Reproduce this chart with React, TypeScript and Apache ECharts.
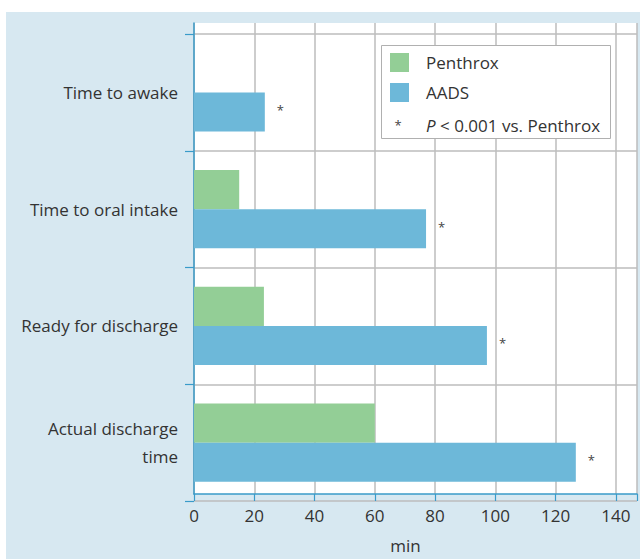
import React, { useEffect, useRef } from "react";
import * as echarts from "echarts";

const categories = ["Time to awake", "Time to oral intake", "Ready for discharge", "Actual discharge\ntime"];
const penthrox: (number | null)[] = [null, 15, 23.2, 60];
const aads = [23.5, 77, 97.2, 126.7];
const xTicks = [0, 20, 40, 60, 80, 100, 120, 140];
const legendNames = ["Penthrox", "AADS"];
const noteText = "{i|P} < 0.001 vs. Penthrox";

const FONT = "Open Sans";
const FS = 17;
const AXIS_BLUE = "#3a9bc9";
const GRID_GRAY = "#bdbdbd";
const GREEN = "#93ce96";
const BLUE = "#6db8d9";

export default function App() {
  const ref = useRef<HTMLDivElement>(null);
  useEffect(() => {
    document.body.style.margin = "0";
    const chart = echarts.init(ref.current!, null, { renderer: "svg" });
    const xMax = 147;
    const option: any = {
      animation: false,
      backgroundColor: "#ffffff",
      textStyle: { fontFamily: FONT },
      graphic: [
        { type: "rect", z: -10, shape: { x: 6, y: 12, width: 634, height: 547 }, style: { fill: "#d7e8f1" }, silent: true },
        { type: "rect", z: 50, shape: { x: 381.5, y: 45.5, width: 229, height: 93 }, style: { fill: "#ffffff", stroke: "#b0b0b0", lineWidth: 1 } },
        { type: "text", z: 52, x: 398, y: 125, style: { text: "*", fill: "#444", fontSize: 13, fontFamily: FONT, align: "center", verticalAlign: "middle" } },
        {
          type: "text", z: 52, x: 426, y: 125,
          style: {
            text: noteText, fill: "#333", fontSize: FS, fontFamily: FONT, verticalAlign: "middle",
            rich: { i: { fontStyle: "italic", fontSize: FS, fontFamily: FONT, fill: "#333" } },
          },
        },
      ],
      legend: {
        z: 60,
        orient: "vertical",
        left: 382,
        top: 51,
        itemWidth: 19,
        itemHeight: 19,
        itemGap: 11,
        icon: "rect",
        data: legendNames,
        textStyle: { fontSize: FS, color: "#333", fontFamily: FONT, padding: [0, 0, 0, 12] },
        padding: [2, 8, 2, 8],
      },
      grid: [
        { left: 194, right: 3, top: 23, bottom: 58, show: true, backgroundColor: "#ffffff", borderWidth: 0, z: 0 },
        { left: 194, right: 3, top: 34, bottom: 58, z: 2 },
      ],
      xAxis: [
        {
          gridIndex: 0, type: "value", min: 0, max: xMax, interval: 20,
          axisLine: { show: true, lineStyle: { color: AXIS_BLUE, width: 1.5 } },
          axisTick: { show: true, length: 7, lineStyle: { color: AXIS_BLUE, width: 1.2 } },
          splitLine: { show: true, lineStyle: { color: GRID_GRAY, width: 1.5 } },
          axisLabel: {
            fontSize: FS, color: "#333", margin: 13, fontFamily: FONT,
            formatter: (v: number) => (xTicks.includes(v) ? String(v) : ""),
          },
          name: "min", nameLocation: "middle", nameGap: 43,
          nameTextStyle: { fontSize: FS, color: "#333", fontFamily: FONT, padding: [0, 20, 0, 0] },
        },
        { gridIndex: 1, type: "value", min: 0, max: xMax, show: false, splitLine: { show: false } },
      ],
      yAxis: [
        {
          gridIndex: 0, type: "value", min: 0, max: 1,
          axisLine: { show: true, lineStyle: { color: AXIS_BLUE, width: 1.5 } },
          axisTick: { show: false }, axisLabel: { show: false }, splitLine: { show: false },
        },
        {
          gridIndex: 1, type: "category", data: categories, inverse: true,
          axisLine: { show: false },
          axisTick: { show: true, length: 9, lineStyle: { color: AXIS_BLUE, width: 1.2 } },
          splitLine: { show: true, lineStyle: { color: GRID_GRAY, width: 1.5 } },
          axisLabel: { fontSize: FS, color: "#333", margin: 16, lineHeight: 28, align: "right", fontFamily: FONT },
        },
      ],
      series: [
        {
          name: legendNames[0], type: "bar", xAxisIndex: 1, yAxisIndex: 1, data: penthrox,
          itemStyle: { color: GREEN }, barGap: "0%", barCategoryGap: "33%", z: 3,
        },
        {
          name: legendNames[1], type: "bar", xAxisIndex: 1, yAxisIndex: 1, data: aads,
          itemStyle: { color: BLUE }, barGap: "0%", barCategoryGap: "33%", z: 3,
          label: { show: true, position: "right", distance: 12, formatter: "*", fontSize: 13, color: "#444", offset: [0, -2] },
        },
      ],
    };
    chart.setOption(option);
    return () => chart.dispose();
  }, []);
  return <div ref={ref} style={{ width: 640, height: 559 }} />;
}
